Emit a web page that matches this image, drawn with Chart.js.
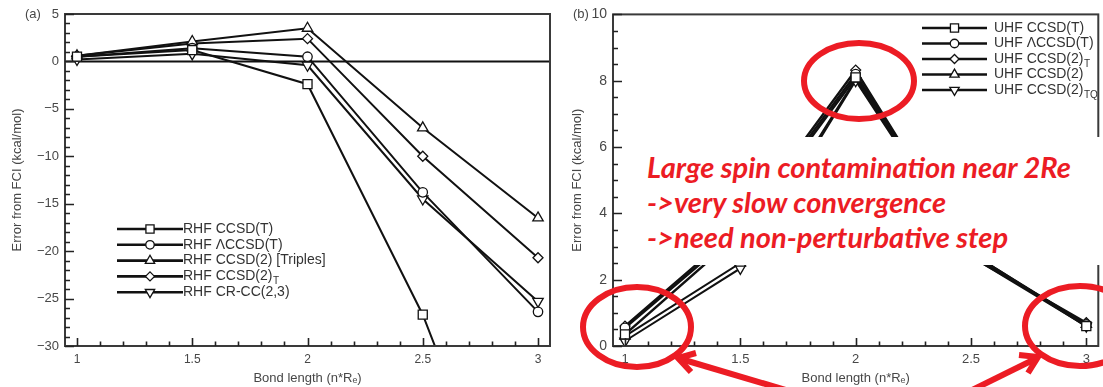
<!DOCTYPE html>
<html>
<head>
<meta charset="utf-8">
<script src="https://cdn.jsdelivr.net/npm/chart.js@4/dist/chart.umd.min.js"></script>
<style>
  body { margin: 0; background: #fff; }
  #wrap { position: relative; width: 1103px; height: 387px; overflow: hidden; background: #fff; }
  #ca { position: absolute; left: 0; top: 0; }
  #cb { position: absolute; left: 560px; top: 0; }
  #mask { position: absolute; left: 628px; top: 137px; width: 475px; height: 128px; background: #fff; }
  #marks { position: absolute; left: 0; top: 0; }
  #note { position: absolute; left: 647px; top: 149px; color: #ec1c24; font-family: Lato, "Open Sans", sans-serif;
          font-style: italic; font-weight: 700; font-size: 26px; line-height: 35px; white-space: nowrap; }
  #note div { display: table; }
</style>
</head>
<body>
<div id="wrap">
  <canvas id="ca" width="560" height="387"></canvas>
  <canvas id="cb" width="546" height="387"></canvas>
  <div id="mask"></div>
  <svg id="marks" width="1103" height="387">
    <g fill="none" stroke="#ec1c24" stroke-width="6">
      <ellipse cx="859" cy="81" rx="55" ry="38"/>
      <ellipse cx="637" cy="327" rx="54" ry="40"/>
      <ellipse cx="1080" cy="326" rx="55" ry="40"/>
      <line x1="806" y1="396" x2="681" y2="359"/>
      <polyline points="691,372 678,358 696,353"/>
      <line x1="960" y1="396" x2="1035" y2="359"/>
      <polyline points="1019,355 1038,357 1028,373"/>
    </g>
  </svg>
  <div id="note">
    <div id="l1">Large spin contamination near 2Re</div>
    <div>-&gt;very slow convergence</div>
    <div>-&gt;need non-perturbative step</div>
  </div>
</div>
<script>
// bond length in units of R_e
var bondLength = [1, 1.5, 2, 2.5, 3];
var xTickValues = [1, 1.5, 2, 2.5, 3];

// panel (a): RHF reference
var rhfLabels = ['RHF CCSD(T)', 'RHF \u039BCCSD(T)', 'RHF CCSD(2) [Triples]', 'RHF CCSD(2)_T', 'RHF CR-CC(2,3)'];
var rhfCCSDT = [0.5, 1.2, -2.4, -26.7, -58];
var rhfLambdaCCSDT = [0.5, 1.4, 0.5, -13.8, -26.4];
var rhfCCSD2Triples = [0.6, 2.1, 3.5, -7.0, -16.5];
var rhfCCSD2T = [0.6, 1.9, 2.4, -10.0, -20.7];
var rhfCRCC23 = [0.2, 0.8, -0.4, -14.5, -25.3];
var yTicksA = [5, 0, -5, -10, -15, -20, -25, -30];

// panel (b): UHF reference
var uhfLabels = ['UHF CCSD(T)', 'UHF \u039BCCSD(T)', 'UHF CCSD(2)_T', 'UHF CCSD(2)', 'UHF CCSD(2)_TQ'];
var uhfCCSDT = [0.35, 3.4, 8.1, 2.8, 0.6];
var uhfLambdaCCSDT = [0.55, 3.5, 8.2, 2.75, 0.65];
var uhfCCSD2T = [0.6, 3.6, 8.32, 2.7, 0.7];
var uhfCCSD2 = [0.3, 2.5, 8.05, 2.8, 0.65];
var uhfCCSD2TQ = [0.15, 2.34, 8.0, 2.7, 0.6];
var yTicksB = [0, 2, 4, 6, 8, 10];

var FONT = '"Liberation Sans", Arial, sans-serif';
var TXT = '#474747';

function pts(vals) {
  return vals.map(function (v, i) { return { x: bondLength[i], y: v }; });
}

function series(label, vals, style, radius, rot, width) {
  return {
    label: label,
    data: pts(vals),
    borderColor: '#111',
    borderWidth: width,
    pointStyle: style,
    pointRadius: radius,
    pointRotation: rot || 0,
    pointBackgroundColor: '#fff',
    pointBorderColor: '#111',
    pointBorderWidth: 1.3,
    tension: 0
  };
}

function minus(v) {
  return v < 0 ? '\u2212' + Math.abs(v) : String(v);
}

// frame, inward ticks, panel letter, zero line
var framePlugin = {
  id: 'frame',
  beforeDatasetsDraw: function (chart, args, o) {
    var ctx = chart.ctx, a = chart.chartArea;
    if (o.zeroLine) {
      var py = chart.scales.y.getPixelForValue(0);
      ctx.save();
      ctx.strokeStyle = '#111';
      ctx.lineWidth = 2;
      ctx.beginPath(); ctx.moveTo(a.left, py); ctx.lineTo(a.right, py); ctx.stroke();
      ctx.restore();
    }
  },
  afterDatasetsDraw: function (chart, args, o) {
    var ctx = chart.ctx, a = chart.chartArea;
    var x = chart.scales.x, y = chart.scales.y;
    ctx.save();
    ctx.strokeStyle = '#3a3a3a';
    ctx.lineWidth = 2;
    ctx.strokeRect(a.left, a.top, a.right - a.left, a.bottom - a.top);
    ctx.strokeStyle = '#222';
    ctx.lineWidth = 1.6;
    ctx.beginPath();
    var n = Math.round((xTickValues[xTickValues.length - 1] - xTickValues[0]) / o.xMinor);
    for (var i = 0; i <= n; i++) {
      var v = xTickValues[0] + i * o.xMinor;
      var major = Math.abs(v / 0.5 - Math.round(v / 0.5)) < 1e-6;
      var px = Math.round(x.getPixelForValue(v)) + 0.5;
      ctx.moveTo(px, a.bottom); ctx.lineTo(px, a.bottom - (major ? 8 : 4.5));
    }
    var ymin = y.min, ymax = y.max;
    var m = Math.round((ymax - ymin) / o.yMinor);
    for (var j = 0; j <= m; j++) {
      var w = ymin + j * o.yMinor;
      var isMajor = o.yTicks.indexOf(Math.round(w * 100) / 100) >= 0;
      var py = Math.round(y.getPixelForValue(w)) + 0.5;
      ctx.moveTo(a.left, py); ctx.lineTo(a.left + (isMajor ? 9 : 5), py);
    }
    ctx.stroke();
    ctx.fillStyle = TXT;
    ctx.font = '13px ' + FONT;
    ctx.textBaseline = 'middle';
    ctx.textAlign = 'left';
    ctx.fillText(o.letter, o.letterX, a.top);
    ctx.restore();
  }
};

// in-plot key with subscripts
var keyPlugin = {
  id: 'key',
  afterDatasetsDraw: function (chart, args, o) {
    var ctx = chart.ctx;
    ctx.save();
    chart.data.datasets.forEach(function (ds, i) {
      var yy = o.top + i * o.step;
      ctx.strokeStyle = '#111';
      ctx.lineWidth = 2.6;
      ctx.beginPath(); ctx.moveTo(o.x0, yy); ctx.lineTo(o.x1, yy); ctx.stroke();
      ctx.fillStyle = '#fff';
      ctx.lineWidth = 1.3;
      Chart.helpers.drawPoint(ctx, {
        pointStyle: ds.pointStyle, radius: ds.pointRadius * 0.9,
        rotation: ds.pointRotation, borderWidth: 1.3
      }, (o.x0 + o.x1) / 2, yy);
      var parts = ds.label.split('_');
      ctx.fillStyle = '#333';
      ctx.font = '14px ' + FONT;
      ctx.textBaseline = 'middle';
      ctx.textAlign = 'left';
      ctx.fillText(parts[0], o.textX, yy);
      if (parts[1]) {
        var wd = ctx.measureText(parts[0]).width;
        ctx.font = '10px ' + FONT;
        ctx.fillText(parts[1], o.textX + wd + 0.5, yy + 5);
      }
    });
    ctx.restore();
  }
};

function axes(yMin, yMax, yTicks, yWidth, ySize, xSize) {
  return {
    x: {
      type: 'linear', min: 0.948, max: 3.052,
      afterBuildTicks: function (s) { s.ticks = xTickValues.map(function (v) { return { value: v }; }); },
      afterFit: function (s) { s.height = 41; },
      grid: { display: false, drawTicks: false },
      border: { display: false },
      ticks: { padding: 6, color: TXT, font: { family: FONT, size: xSize }, callback: function (v) { return String(v); } },
      title: { display: true, text: 'Bond length (n*R\u2091)', color: TXT, font: { family: FONT, size: 13 }, padding: { top: 0, bottom: 1 } }
    },
    y: {
      type: 'linear', min: yMin, max: yMax,
      afterBuildTicks: function (s) { s.ticks = yTicks.map(function (v) { return { value: v }; }); },
      afterFit: function (s) { s.width = yWidth; },
      grid: { display: false, drawTicks: false },
      border: { display: false },
      ticks: { padding: 6, color: TXT, font: { family: FONT, size: ySize }, callback: minus },
      title: { display: true, text: 'Error from FCI (kcal/mol)', color: TXT, font: { family: FONT, size: 13 }, padding: { top: 10, bottom: 0 } }
    }
  };
}

new Chart(document.getElementById('ca').getContext('2d'), {
  type: 'line',
  data: {
    datasets: [
      series(rhfLabels[0], rhfCCSDT, 'rect', 6.4, 0, 2),
      series(rhfLabels[1], rhfLambdaCCSDT, 'circle', 4.7, 0, 2),
      series(rhfLabels[2], rhfCCSD2Triples, 'triangle', 6, 0, 2),
      series(rhfLabels[3], rhfCCSD2T, 'rectRot', 5, 0, 2),
      series(rhfLabels[4], rhfCRCC23, 'triangle', 6, 180, 2)
    ]
  },
  options: {
    responsive: false,
    animation: false,
    layout: { padding: { top: 14, right: 10, left: 0, bottom: 0 } },
    scales: axes(-30, 5, yTicksA, 65, 13, 12),
    plugins: {
      legend: { display: false },
      tooltip: { enabled: false },
      frame: { zeroLine: true, xMinor: 0.1, yMinor: 1, yTicks: yTicksA, letter: '(a)', letterX: 25 },
      key: { x0: 117, x1: 183, textX: 183, top: 229, step: 15.8 }
    }
  },
  plugins: [framePlugin, keyPlugin]
});

new Chart(document.getElementById('cb').getContext('2d'), {
  type: 'line',
  data: {
    datasets: [
      series(uhfLabels[0], uhfCCSDT, 'rect', 6.4, 0, 2.5),
      series(uhfLabels[1], uhfLambdaCCSDT, 'circle', 4.7, 0, 2.5),
      series(uhfLabels[2], uhfCCSD2T, 'rectRot', 5, 0, 2.5),
      series(uhfLabels[3], uhfCCSD2, 'triangle', 6, 0, 2),
      series(uhfLabels[4], uhfCCSD2TQ, 'triangle', 6, 180, 2)
    ]
  },
  options: {
    responsive: false,
    animation: false,
    layout: { padding: { top: 14, right: 0, left: 0, bottom: 0 } },
    scales: axes(0, 10, yTicksB, 53, 14, 13),
    plugins: {
      legend: { display: false },
      tooltip: { enabled: false },
      frame: { zeroLine: false, xMinor: 0.1, yMinor: 0.5, yTicks: yTicksB, letter: '(b)', letterX: 13 },
      key: { x0: 362, x1: 427, textX: 434, top: 28, step: 15.5 }
    }
  },
  plugins: [framePlugin, keyPlugin]
});

// fit annotation text to the width of the original callout
var l1 = document.getElementById('l1');
var note = document.getElementById('note');
var wNow = l1.getBoundingClientRect().width;
if (wNow > 0) note.style.fontSize = (26 * 424 / wNow).toFixed(2) + 'px';
</script>
</body>
</html>
